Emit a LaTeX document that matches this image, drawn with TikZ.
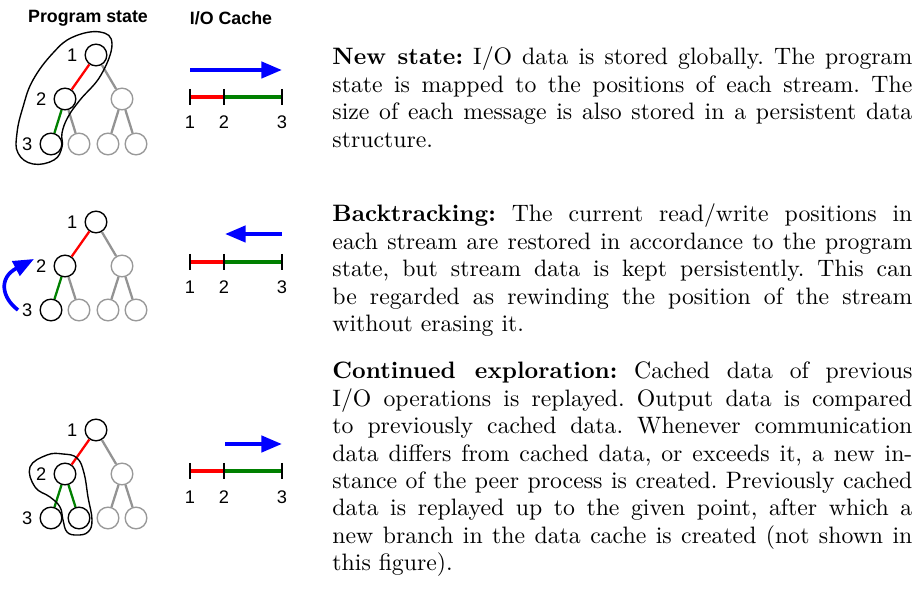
\documentclass[tikz,border=0pt]{standalone}
\usepackage{fontspec}
\newfontfamily\labelfont{Liberation Sans}
\usetikzlibrary{arrows.meta, positioning}
\frenchspacing

\begin{document}
\begin{tikzpicture}[
    x=0.438pt, y=-0.438pt,
    state_node/.style={circle, draw=black, line width=0.6pt, minimum size=9.5pt, inner sep=0pt},
    idle_node/.style={state_node, draw=gray!80},
    idle_edge/.style={gray!85, line width=1pt},
    red_edge/.style={red, line width=1pt},
    green_edge/.style={green!50!black, line width=1pt},
    num_label/.style={font=\labelfont\fontsize{8}{9}\selectfont, inner sep=1pt},
    head_label/.style={font=\labelfont\bfseries\fontsize{7.8}{9}\selectfont, inner sep=1pt},
    io_flow/.style={-{Triangle[length=9pt, width=7pt]}, blue, line width=1.8pt},
    cache_part/.style={line width=1.6pt},
    cache_tick/.style={line width=0.45pt},
    path_loop/.style={line width=0.6pt},
    desc_text/.style={anchor=base west, inner sep=0pt, font=\fontsize{10.4}{12}\selectfont}
]
    \useasboundingbox (0,0) rectangle (919,591);

    % Headers
    \node[head_label] (hstate) at (88,18) {Program state};
    \node[head_label] (hcache) at (231,18) {I/O Cache};

    % Panel 1: new state
    \begin{scope}[shift={(0,55)}]
        \node[state_node] (a1) at (96,0) {};
        \node[state_node] (a2) at (65,44) {};
        \node[idle_node] (a3) at (122,44) {};
        \node[state_node] (a4) at (51,89) {};
        \node[idle_node] (a5) at (79,89) {};
        \node[idle_node] (a6) at (108,89) {};
        \node[idle_node] (a7) at (136,89) {};
        \draw[red_edge] (a1) -- (a2);
        \draw[idle_edge] (a1) -- (a3);
        \draw[green_edge] (a2) -- (a4);
        \draw[idle_edge] (a2) -- (a5);
        \draw[idle_edge] (a3) -- (a6);
        \draw[idle_edge] (a3) -- (a7);
        \node[num_label, left=2pt of a1] (la1) {1};
        \node[num_label, left=2pt of a2] (la2) {2};
        \node[num_label, left=2pt of a4] (la3) {3};

        \coordinate (ca1) at (190,42);
        \coordinate (ca2) at (224,42);
        \coordinate (ca3) at (282,42);
        \coordinate (fa1) at (190,15);
        \coordinate (fa2) at (282,15);
        \draw[io_flow] (fa1) -- (fa2);
        \draw[cache_part, red] (ca1) -- (ca2);
        \draw[cache_part, green!50!black] (ca2) -- (ca3);
        \foreach \c in {ca1, ca2, ca3}
            \draw[cache_tick] ([yshift=3.6pt]\c) -- ([yshift=-3.6pt]\c);
        \node[num_label] (na1) at (190,67) {1};
        \node[num_label] (na2) at (224,67) {2};
        \node[num_label] (na3) at (282,67) {3};
    \end{scope}
    \draw[path_loop] plot[smooth cycle, tension=0.7] coordinates {
        (100,32) (112,44) (101,75) (80,100) (68,117) (62,133) (62,147)
        (54,160) (33,164) (18,153) (17,133) (23,107) (33,80) (53,53) (73,37)};

    % Panel 2: backtracking
    \begin{scope}[shift={(0,222)}]
        \node[state_node] (b1) at (96,0) {};
        \node[state_node] (b2) at (65,44) {};
        \node[idle_node] (b3) at (122,44) {};
        \node[state_node] (b4) at (51,88) {};
        \node[idle_node] (b5) at (79,88) {};
        \node[idle_node] (b6) at (108,88) {};
        \node[idle_node] (b7) at (136,88) {};
        \draw[red_edge] (b1) -- (b2);
        \draw[idle_edge] (b1) -- (b3);
        \draw[green_edge] (b2) -- (b4);
        \draw[idle_edge] (b2) -- (b5);
        \draw[idle_edge] (b3) -- (b6);
        \draw[idle_edge] (b3) -- (b7);
        \node[num_label, left=2pt of b1] (lb1) {1};
        \node[num_label, left=2pt of b2] (lb2) {2};
        \node[num_label, left=2pt of b4] (lb3) {3};

        \coordinate (cb1) at (190,40);
        \coordinate (cb2) at (224,40);
        \coordinate (cb3) at (282,40);
        \coordinate (fb1) at (282,12);
        \coordinate (fb2) at (225,12);
        \draw[io_flow] (fb1) -- (fb2);
        \draw[cache_part, red] (cb1) -- (cb2);
        \draw[cache_part, green!50!black] (cb2) -- (cb3);
        \foreach \c in {cb1, cb2, cb3}
            \draw[cache_tick] ([yshift=3.6pt]\c) -- ([yshift=-3.6pt]\c);
        \node[num_label] (nb1) at (190,65) {1};
        \node[num_label] (nb2) at (224,65) {2};
        \node[num_label] (nb3) at (282,65) {3};

        \coordinate (bk_from) at (18,88);
        \coordinate (bk_to) at (34,37);
        \draw[io_flow, line width=1.6pt] (bk_from) .. controls (2,76) and (-2,56) .. (bk_to);
    \end{scope}

    % Panel 3: continued exploration
    \begin{scope}[shift={(0,430)}]
        \node[state_node] (c1) at (96,0) {};
        \node[state_node] (c2) at (65,44) {};
        \node[idle_node] (c3) at (122,44) {};
        \node[state_node] (c4) at (51,88) {};
        \node[state_node] (c5) at (79,88) {};
        \node[idle_node] (c6) at (108,88) {};
        \node[idle_node] (c7) at (136,88) {};
        \draw[red_edge] (c1) -- (c2);
        \draw[idle_edge] (c1) -- (c3);
        \draw[green_edge] (c2) -- (c4);
        \draw[green_edge] (c2) -- (c5);
        \draw[idle_edge] (c3) -- (c6);
        \draw[idle_edge] (c3) -- (c7);
        \node[num_label, left=2pt of c1] (lc1) {1};
        \node[num_label, left=2pt of c2] (lc2) {2};
        \node[num_label, left=2pt of c4] (lc3) {3};

        \coordinate (cc1) at (190,41);
        \coordinate (cc2) at (224,41);
        \coordinate (cc3) at (282,41);
        \coordinate (fc1) at (225,14);
        \coordinate (fc2) at (282,14);
        \draw[io_flow] (fc1) -- (fc2);
        \draw[cache_part, red] (cc1) -- (cc2);
        \draw[cache_part, green!50!black] (cc2) -- (cc3);
        \foreach \c in {cc1, cc2, cc3}
            \draw[cache_tick] ([yshift=3.6pt]\c) -- ([yshift=-3.6pt]\c);
        \node[num_label] (nc1) at (190,67) {1};
        \node[num_label] (nc2) at (224,67) {2};
        \node[num_label] (nc3) at (282,67) {3};
    \end{scope}
    \draw[path_loop] plot[smooth cycle, tension=0.7] coordinates {
        (30,467) (47,455) (63,454) (77,458) (84,473) (88,497) (92,520)
        (88,532) (77,535) (67,532) (63,520) (60,507) (50,497) (35,487)};

    % Descriptions
    \node[desc_text] (t1) at (332,65) {\parbox[t]{254pt}{\textbf{New state:} I/O data is stored globally. The program\linebreak
        state is mapped to the positions of each stream. The\linebreak
        size of each message is also stored in a persistent data\linebreak
        structure.}};
    \node[desc_text] (t2) at (332,222) {\parbox[t]{254pt}{\textbf{Backtracking:} The current read/write positions in\linebreak
        each stream are restored in accordance to the program\linebreak
        state, but stream data is kept persistently. This can\linebreak
        be regarded as rewinding the position of the stream\linebreak
        without erasing it.}};
    \node[desc_text] (t3) at (332,379) {\parbox[t]{254pt}{\textbf{Continued exploration:} Cached data of previous\linebreak
        I/O operations is replayed. Output data is compared\linebreak
        to previously cached data. Whenever communication\linebreak
        data differs from cached data, or exceeds it, a new in-\linebreak
        stance of the peer process is created. Previously cached\linebreak
        data is replayed up to the given point, after which a\linebreak
        new branch in the data cache is created (not shown in\linebreak
        this figure).}};

\end{tikzpicture}
\end{document}
